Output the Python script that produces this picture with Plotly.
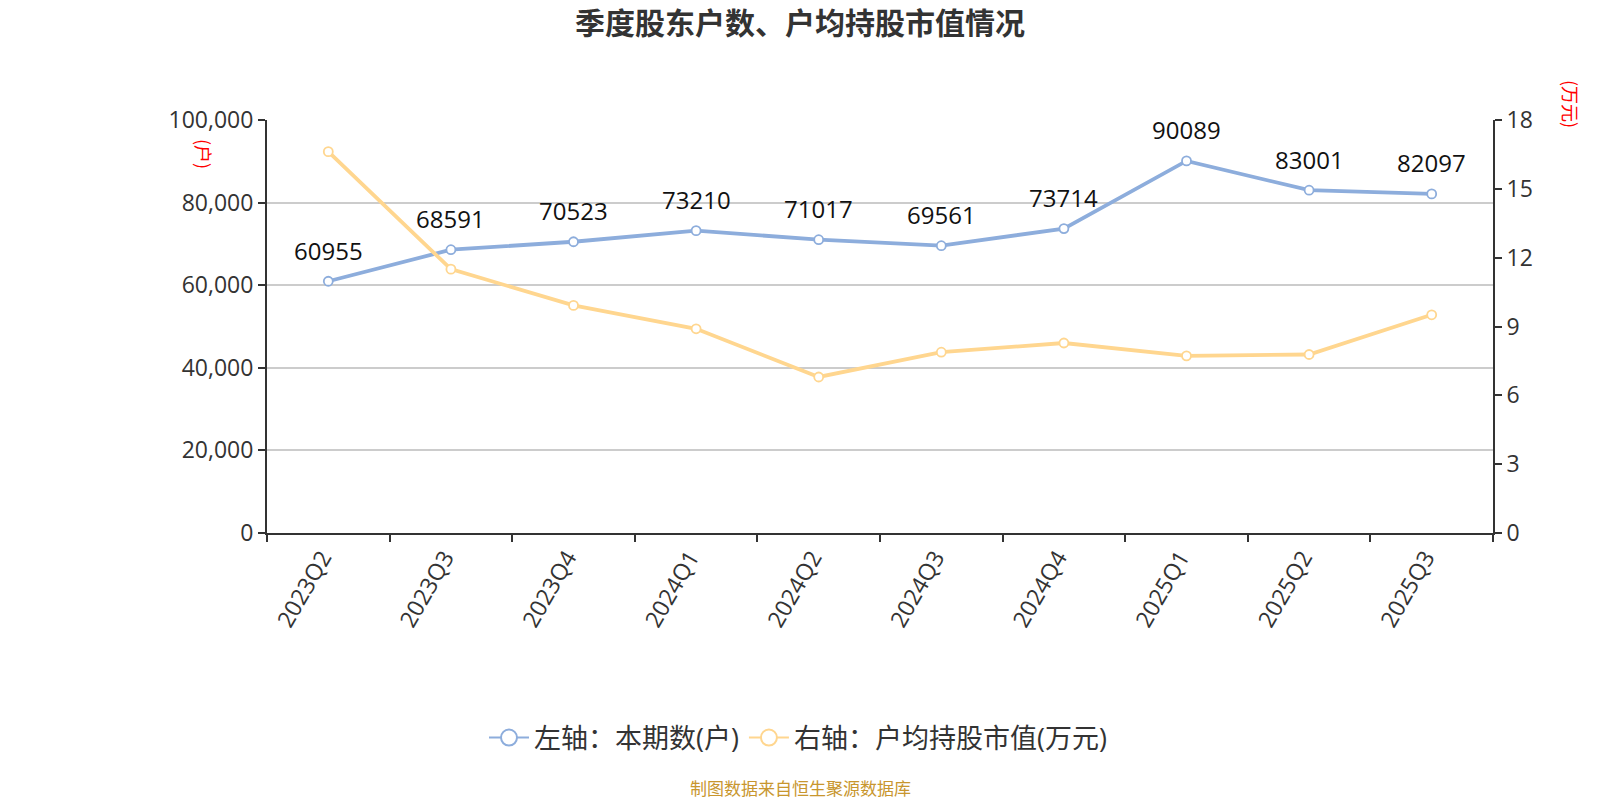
import plotly.graph_objects as go

quarters = ["2023Q2", "2023Q3", "2023Q4", "2024Q1", "2024Q2", "2024Q3",
            "2024Q4", "2025Q1", "2025Q2", "2025Q3"]
holders = [60955, 68591, 70523, 73210, 71017, 69561, 73714, 90089, 83001, 82097]
avg_value = [16.62, 11.5, 9.92, 8.9, 6.8, 7.88, 8.28, 7.72, 7.78, 9.51]

left_ticks = [0, 20000, 40000, 60000, 80000, 100000]
right_ticks = [0, 3, 6, 9, 12, 15, 18]

BLUE = "#8daddc"
YELLOW = "#ffd68f"
CJK = "Noto Sans CJK SC"
NUM = "Open Sans, Noto Sans CJK SC"

fig = go.Figure()
fig.add_trace(go.Scatter(
    x=quarters, y=holders, mode="lines+markers", name="左轴：本期数(户)",
    line=dict(color=BLUE, width=3.8),
    marker=dict(symbol="circle", size=9, color="white", line=dict(color=BLUE, width=1.8)),
    showlegend=False, yaxis="y", cliponaxis=False))
fig.add_trace(go.Scatter(
    x=quarters, y=avg_value, mode="lines+markers", name="右轴：户均持股市值(万元)",
    line=dict(color=YELLOW, width=3.8),
    marker=dict(symbol="circle", size=9, color="white", line=dict(color=YELLOW, width=1.8)),
    showlegend=False, yaxis="y2", cliponaxis=False))
# legend entries with larger symbols
fig.add_trace(go.Scatter(
    x=[None], y=[None], mode="lines+markers", name="左轴：本期数(户)",
    line=dict(color=BLUE, width=2),
    marker=dict(symbol="circle", size=23, color="white", line=dict(color=BLUE, width=2))))
fig.add_trace(go.Scatter(
    x=[None], y=[None], mode="lines+markers", name="右轴：户均持股市值(万元)",
    line=dict(color=YELLOW, width=2),
    marker=dict(symbol="circle", size=23, color="white", line=dict(color=YELLOW, width=2)),
    yaxis="y2"))

L, R, T, B = 267, 107, 120, 267
W, H = 1600, 800
pw, ph = W - L - R, H - T - B
def px(xp): return (xp - L) / pw
def py(yp): return (H - B - yp) / ph

fig.update_layout(
    width=W, height=H,
    margin=dict(l=L, r=R, t=T, b=B),
    paper_bgcolor="white", plot_bgcolor="white",
    title=dict(text="<b>季度股东户数、户均持股市值情况</b>", x=0.5, xanchor="center",
               y=1 - 23 / H, yanchor="middle", font=dict(family=CJK, size=30, color="#333")),
    font=dict(family=NUM, color="#333"),
    xaxis=dict(type="category", categoryorder="array", categoryarray=quarters,
               range=[-0.5, len(quarters) - 0.5],
               tickson="boundaries", ticks="outside", ticklen=7, tickwidth=2, tickcolor="#333",
               showline=True, linecolor="#333", linewidth=2, showgrid=False,
               tickangle=-60, ticklabelshift=-6,
               tickfont=dict(family=NUM, size=23, color="#333")),
    yaxis=dict(range=[0, 100000], tickvals=left_ticks, tickformat=",",
               ticks="outside", ticklen=7, tickwidth=2, tickcolor="#333",
               showline=True, linecolor="#333", linewidth=2,
               showgrid=True, gridcolor="#cccccc", gridwidth=1.5, zeroline=False,
               tickfont=dict(family=NUM, size=23, color="#333")),
    yaxis2=dict(range=[0, 18], tickvals=right_ticks, overlaying="y", side="right",
                ticks="outside", ticklen=7, tickwidth=2, tickcolor="#333",
                showline=True, linecolor="#333", linewidth=2,
                showgrid=False, zeroline=False,
                tickfont=dict(family=NUM, size=23, color="#333")),
    legend=dict(orientation="h", x=px(798), xanchor="center", y=py(738), yanchor="middle",
                font=dict(family=NUM, size=27, color="#333"), itemwidth=40),
    showlegend=True,
)

for q, v in zip(quarters, holders):
    fig.add_annotation(x=q, y=v, xref="x", yref="y", text=str(v), showarrow=False,
                       xanchor="center", yanchor="middle", yshift=31,
                       font=dict(family=NUM, size=24, color="#111"))

fig.add_annotation(text="(户)", x=px(204), y=py(154), xref="paper", yref="paper",
                   xanchor="center", yanchor="middle",
                   showarrow=False, textangle=90, font=dict(family=CJK, size=18, color="red"))
fig.add_annotation(text="(万元)", x=px(1571), y=py(104), xref="paper", yref="paper",
                   xanchor="center", yanchor="middle",
                   showarrow=False, textangle=90, font=dict(family=CJK, size=18, color="red"))
fig.add_annotation(text="制图数据来自恒生聚源数据库", x=px(800), y=py(787), xref="paper", yref="paper",
                   xanchor="center", yanchor="middle",
                   showarrow=False, font=dict(family=CJK, size=17, color="#c8962e"))

fig.write_html("out.html")
